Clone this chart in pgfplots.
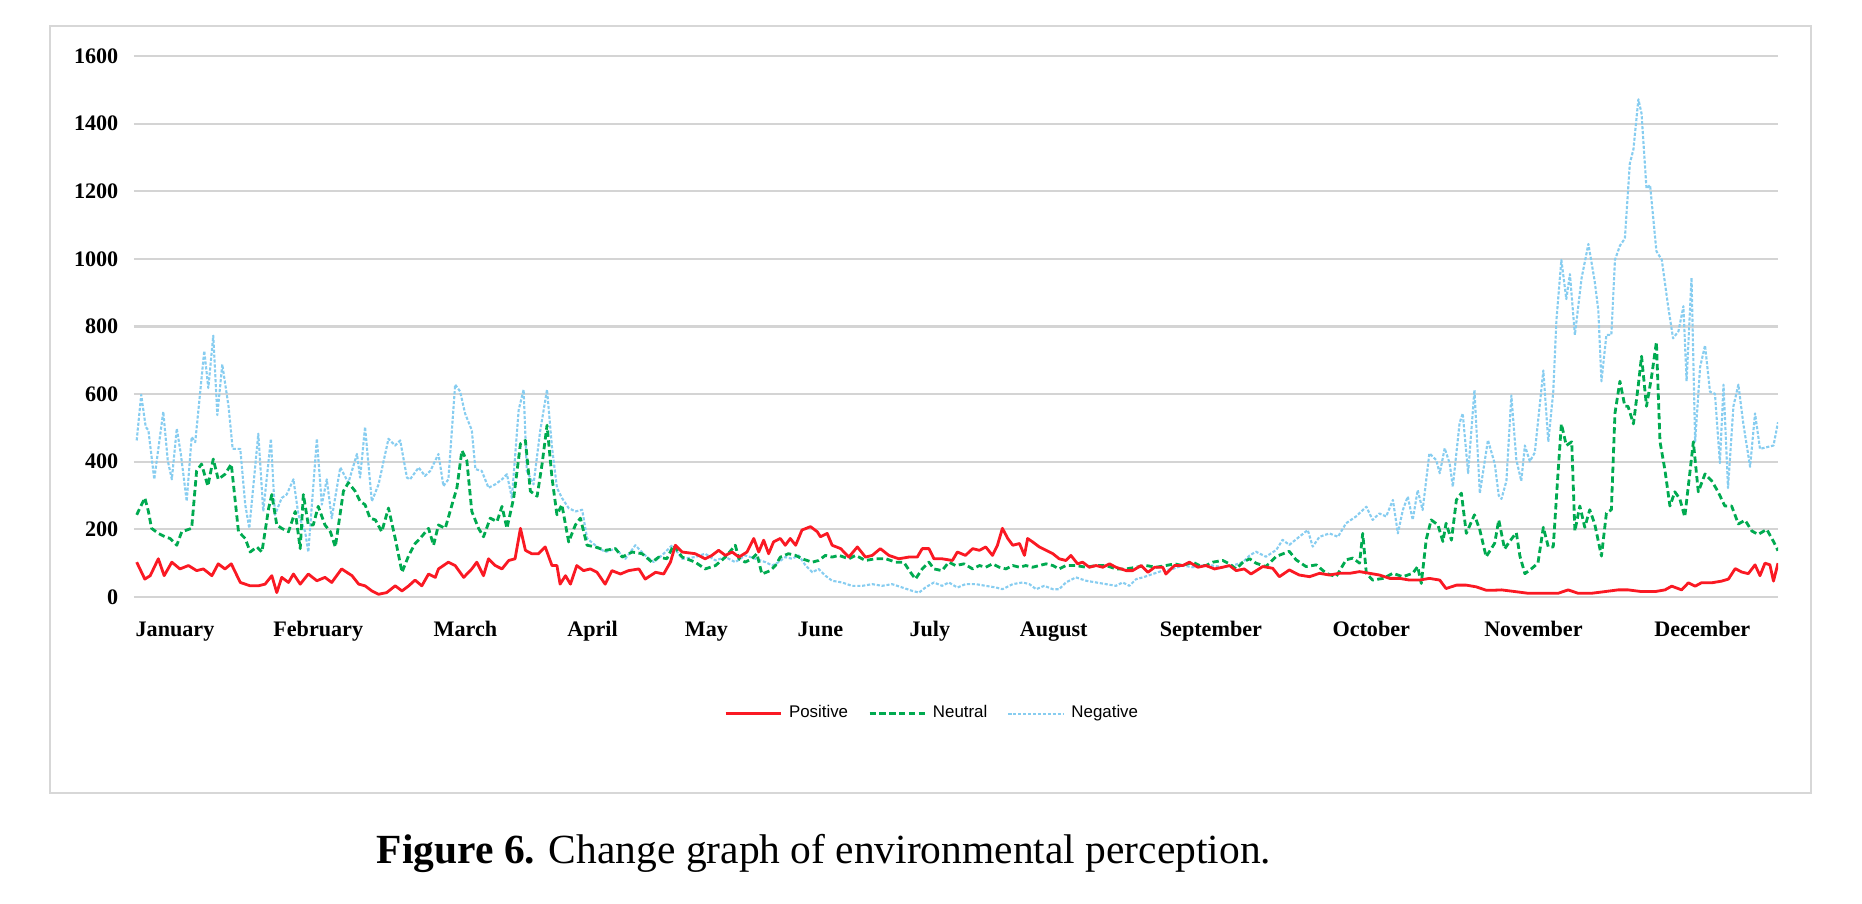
\documentclass[border=0pt]{standalone}
\usepackage{fontspec}
\setmainfont{Liberation Serif}
\newfontfamily\legendfont{Liberation Sans}
\usepackage{pgfplots}
\pgfplotsset{compat=1.18}

\definecolor{posred}{RGB}{250,25,35}
\definecolor{neugreen}{RGB}{0,170,80}
\definecolor{negblue}{RGB}{135,205,240}
\definecolor{gridgray}{RGB}{212,212,212}
\definecolor{framegray}{RGB}{215,215,215}

\begin{document}
\begin{tikzpicture}[x=1cm,y=1cm]
\useasboundingbox (0,0) rectangle (18.62,9.04);
\draw[framegray, line width=0.8pt] (0.50,1.11) rectangle (18.11,8.78);

\begin{axis}[
  at={(1.34cm,3.07cm)}, anchor=south west,
  scale only axis, width=16.44cm, height=5.41cm,
  xmin=0, xmax=365, ymin=0, ymax=1600,
  ytick={0,200,...,1600},
  xtick={9.1,40.9,73.6,101.8,127.1,152.4,176.7,204.2,239.1,274.7,310.7,348.2},
  xticklabels={January,February,March,April,May,June,July,August,September,October,November,December},
  axis line style={draw=none},
  major tick length=0pt,
  ymajorgrids=true,
  grid style={gridgray, line width=0.6pt},
  /pgf/number format/assume math mode=true,
  /pgf/number format/1000 sep={},
  yticklabel style={font=\bfseries\fontsize{6.3}{7}\selectfont, inner sep=0pt, anchor=east, xshift=-0.15cm},
  xticklabel style={font=\bfseries\fontsize{6.3}{7}\selectfont, inner sep=0pt, anchor=base, yshift=-0.40cm},
  legend style={at={(0.487,-0.216)}, anchor=center, draw=none, fill=none,
    legend columns=3, font=\legendfont\fontsize{4.8}{6}\selectfont,
    /tikz/every even column/.append style={column sep=0.13cm}},
  legend image code/.code={\draw[#1] (0cm,0cm) -- (0.55cm,0cm);},
  line join=round,
]

% Negative
\addplot[negblue, line width=0.6pt, dash pattern=on 0.9pt off 0.5pt, forget plot] coordinates {
(0.6,463)(1.6,598)(2.6,503)(3.2,493)(4.5,348)(6.5,548)(7.5,403)(8.4,348)(9.5,498)(10.4,423)(11.7,283)(12.8,473)(13.6,458)(15.6,728)(16.5,618)(17.6,773)(18.5,538)(19.6,688)(21.0,563)(21.9,438)(23.6,438)(24.7,273)(25.6,203)(27.6,483)(28.7,253)(30.4,468)(31.3,243)(32.8,293)(33.9,303)(35.4,348)(36.5,243)(38.0,193)(38.7,133)(40.6,468)(41.7,273)(42.8,348)(43.9,233)(45.8,383)(47.6,338)(49.5,423)(50.2,353)(51.3,503)(52.8,283)(54.3,333)(56.5,468)(58.0,448)(59.1,463)(60.6,353)
(61.3,348)(63.2,383)(64.6,358)(65.8,373)(67.6,423)(68.7,328)(69.8,348)(71.3,628)(72.4,608)(73.5,543)(75.0,493)(75.8,378)(77.2,373)(78.7,323)(80.2,333)(81.7,348)(82.8,363)(83.9,293)(85.4,553)(86.5,613)(87.2,373)(88.7,333)(90.2,493)(91.7,613)(92.8,443)(93.9,323)(95.0,293)(96.5,263)(98.0,253)(99.5,258)(100.6,173)(102.4,153)(104.6,133)(106.9,143)(109.1,113)(111.3,153)(113.5,123)(115.4,103)(117.2,123)(119.5,153)(121.7,113)
(124.6,118)(126.8,128)(129.1,108)(131.3,118)(133.5,103)(135.7,123)(138.0,113)(140.2,103)(141.7,93)(143.1,103)(144.6,118)(146.1,113)(147.6,123)(149.1,93)(150.6,73)(152.0,83)(153.5,63)(155.0,48)(157.2,43)(159.4,33)(161.7,33)(163.9,38)(166.1,33)(168.3,38)(170.6,28)(172.8,18)(174.3,13)(175.7,28)(177.6,43)(179.4,33)(180.9,43)(182.8,28)(184.6,38)
(186.9,38)(189.1,33)(191.4,28)(192.8,23)(195.1,38)(197.3,43)(198.8,38)(200.3,23)(202.1,33)(204.0,23)(205.4,23)(206.9,43)(209.1,58)(211.4,48)(213.6,43)(215.8,38)(218.0,33)(219.5,43)(221.0,33)(222.5,53)(224.0,58)(226.2,68)(228.4,78)(230.6,83)(232.8,93)(235.1,88)(237.3,93)(239.5,93)(241.7,88)(244.0,93)(246.2,103)(247.7,123)
(249.1,134)(251.3,119)(253.6,139)(255.0,169)(256.5,154)(258.7,178)(260.6,198)(261.7,149)(263.2,178)(265.4,188)(267.3,178)(269.1,218)(271.3,238)(273.6,267)(275.0,228)(276.5,247)(278.0,238)(279.5,287)(280.6,188)(281.7,257)(282.8,297)(283.9,228)(285.0,316)(286.1,257)(287.6,425)(289.1,405)(289.9,366)(291.0,440)(292.1,395)(292.8,326)(294.3,514)(295.0,543)(296.2,366)(297.6,612)(298.8,307)(300.6,464)(302.1,395)(303.0,300)
(303.6,290)(304.7,343)(305.8,596)(306.9,406)(308.0,343)(308.8,448)(309.9,401)(311.0,427)(312.9,670)(314.0,459)(315.1,607)(315.8,818)(316.9,997)(318.0,881)(318.8,955)(319.9,775)(321.4,944)(322.9,1044)(324.3,934)(325.1,849)(325.8,638)(326.9,775)(328.0,775)(328.8,997)(329.9,1039)(331.0,1060)(332.1,1282)(332.9,1324)(334.0,1472)(334.7,1430)(335.8,1208)(336.6,1218)(338.0,1023)(339.2,997)(340.6,860)(341.7,765)(342.9,786)(344.0,860)(344.7,638)(345.8,944)(346.6,459)(347.7,680)(348.8,744)(349.9,607)(351.0,601)(352.1,396)(352.9,628)(353.9,322)(355.1,564)(356.2,628)(357.3,512)(358.8,385)(359.9,543)(361.0,438)(362.5,443)(364.0,448)(365.0,517)
};

% Neutral
\addplot[neugreen, line width=0.8pt, dash pattern=on 1.8pt off 1pt, forget plot] coordinates {
(0.6,243)(2.4,293)(3.2,253)(3.9,203)(5.4,188)(6.9,178)(8.0,173)(9.5,153)(10.6,193)(12.8,203)(13.9,373)(15.0,393)(16.4,328)(17.6,408)(18.7,348)(20.2,363)(21.6,393)(23.2,193)(24.7,173)(25.8,133)(27.3,148)(28.4,133)(29.9,263)(30.6,303)(31.7,213)(32.8,203)(34.3,193)(35.8,253)(36.9,143)(37.6,303)(38.7,213)(39.8,213)(40.9,268)(42.4,213)(43.6,193)(44.7,148)(46.5,313)(47.6,338)(49.1,313)(50.2,283)(51.3,273)(52.4,233)(53.6,228)(55.0,193)(56.5,263)(58.0,173)(59.5,73)(61.0,123)
(62.4,158)(63.5,173)(65.4,203)(66.5,153)(67.6,213)(69.1,203)(70.6,273)(71.7,323)(72.8,433)(73.9,403)(75.0,253)(76.5,203)(77.6,178)(79.1,233)(80.6,223)(81.7,268)(82.8,203)(84.3,293)(85.8,453)(86.9,463)(88.0,313)(89.5,298)(90.6,393)(91.7,508)(92.8,353)(93.9,243)(95.0,273)(96.5,163)(98.0,213)(99.1,233)(100.6,153)(102.4,148)(104.6,138)(106.9,143)(108.4,118)(110.6,133)(112.8,128)(115.0,103)(116.5,118)(118.3,113)(119.8,153)(121.7,118)
(124.6,103)(126.8,83)(129.1,93)(131.3,118)(133.5,153)(134.3,113)(135.7,103)(137.2,113)(138.3,128)(139.4,68)(141.3,78)(142.4,93)(143.5,118)(145.3,128)(146.9,123)(148.3,113)(150.6,103)(152.0,108)(153.5,123)(155.0,118)(156.5,123)(158.7,113)(160.2,123)(162.4,108)(164.6,113)(166.9,113)(169.1,103)(170.9,103)(172.4,73)(173.5,53)(175.0,83)(176.5,103)(177.6,83)(179.4,78)(180.9,103)(182.4,93)(184.3,98)
(186.2,83)(187.7,93)(189.1,88)(190.6,98)(192.1,88)(193.6,83)(195.1,93)(196.6,88)(198.0,93)(199.5,88)(201.0,93)(202.5,98)(204.0,93)(205.4,83)(206.9,93)(209.1,93)(211.4,88)(213.6,93)(215.8,93)(218.0,83)(220.3,83)(222.5,88)(224.7,93)(226.9,88)(229.1,93)(231.0,98)(232.8,93)(235.1,103)(236.6,93)(238.0,93)(239.5,103)(241.7,108)(243.2,98)(244.7,83)(246.2,103)(247.7,113)
(249.1,100)(251.3,90)(253.6,120)(256.5,135)(258.0,110)(260.2,90)(262.5,95)(264.7,70)(266.9,60)(269.1,110)(270.6,115)(272.1,100)(272.8,188)(273.6,70)(275.0,50)(277.3,55)(279.5,70)(281.7,60)(283.9,70)(285.0,90)(285.8,40)(286.9,170)(288.0,228)(289.5,213)(290.6,164)(291.3,218)(292.5,168)(293.6,287)(294.7,307)(295.8,188)(297.6,243)(298.8,198)(300.2,119)(302.1,159)(303.0,228)
(304.3,142)(305.4,164)(306.9,190)(307.7,121)(308.8,69)(310.3,84)(311.7,100)(312.9,206)(314.0,148)(315.1,148)(316.2,375)(316.9,512)(318.0,448)(319.2,459)(319.9,195)(321.0,269)(322.1,206)(323.2,258)(324.3,216)(325.8,121)(326.9,248)(328.0,258)(328.8,543)(329.9,638)(331.0,564)(331.7,564)(332.9,512)(334.0,628)(334.7,712)(335.8,564)(336.9,649)(338.0,754)(338.8,459)(339.9,375)(341.0,269)(342.1,311)(343.2,290)(344.3,237)(345.4,364)(346.2,459)(347.3,311)(348.8,364)(350.3,343)(351.7,311)(353.2,269)(354.7,269)(356.2,216)(357.7,227)(359.2,195)(360.6,185)(362.5,200)(364.0,164)(365.0,137)
};

% Positive
\addplot[posred, line width=0.8pt, forget plot] coordinates {
(0.6,103)(2.4,53)(3.6,63)(5.4,113)(6.7,63)(8.4,103)(10.2,83)(12.1,93)(13.9,78)(15.4,83)(17.3,63)(18.7,98)(20.2,83)(21.6,98)(23.6,43)(25.8,33)(27.6,33)(29.1,38)(30.6,63)(31.7,13)(32.8,58)(34.3,43)(35.4,68)(36.9,38)(38.7,68)(40.6,48)(42.4,58)(43.9,43)(46.1,83)(48.4,63)(49.9,38)(51.3,33)(52.8,18)(54.3,8)(56.1,13)(58.0,33)(59.5,18)
(61.0,33)(62.4,50)(63.9,33)(65.4,68)(66.9,58)(67.6,83)(69.8,103)(71.3,93)(73.2,58)(75.0,83)(76.1,103)(77.6,63)(78.7,113)(80.2,93)(81.7,83)(83.2,108)(84.6,113)(85.8,203)(86.9,138)(88.3,128)(89.8,128)(91.3,148)(92.8,93)(93.9,93)(94.6,38)(95.8,63)(96.9,38)(98.3,93)(99.8,78)(101.3,83)(102.8,73)(104.6,38)(106.1,78)(108.0,68)(109.8,78)(112.1,83)(113.5,53)(115.8,73)(117.6,68)(119.1,103)(120.2,153)(121.7,133)
(124.6,128)(126.8,113)(128.3,123)(129.8,138)(131.3,123)(132.8,133)(134.3,118)(136.1,133)(137.6,173)(138.7,133)(139.8,168)(140.9,128)(142.0,163)(143.5,173)(144.6,153)(145.7,173)(146.9,153)(148.3,198)(150.2,208)(151.7,193)(152.4,178)(153.9,188)(155.0,153)(156.9,143)(158.7,118)(160.6,148)(162.4,118)(163.9,123)(165.7,143)(167.6,123)(169.8,113)(172.0,118)(173.9,118)(175.0,143)(176.5,143)(177.6,113)(179.4,113)(181.7,108)(182.8,133)(184.6,123)
(186.2,143)(187.7,138)(189.1,148)(190.6,123)(191.7,153)(192.8,203)(194.0,173)(195.1,153)(196.6,158)(197.7,123)(198.4,173)(199.5,163)(201.0,148)(202.5,138)(204.0,128)(205.4,113)(206.9,108)(208.0,123)(209.5,98)(210.6,103)(212.1,88)(213.6,93)(215.1,88)(216.6,98)(218.0,88)(220.3,78)(221.7,78)(223.6,93)(225.1,73)(226.6,88)(228.4,88)(229.1,68)(231.0,93)(232.8,93)(234.3,103)(236.2,88)(238.0,93)(239.9,83)(241.7,88)(243.2,93)(244.7,78)(246.5,83)(248.0,68)
(250.6,90)(252.8,85)(254.3,60)(256.5,80)(258.7,65)(261.0,60)(263.2,70)(265.4,65)(267.6,70)(269.9,70)(272.1,75)(274.3,70)(276.5,65)(278.8,55)(281.0,55)(283.2,50)(285.4,50)(287.6,55)(289.9,50)(291.3,25)(293.6,35)(295.8,35)(298.0,30)(300.2,20)(302.0,20)
(303.6,21)(306.6,16)(309.5,11)(312.5,11)(316.2,11)(318.4,21)(320.6,11)(323.6,11)(326.6,16)(329.5,21)(331.7,21)(334.7,16)(337.7,16)(339.9,21)(341.4,32)(343.6,21)(345.1,42)(346.6,32)(348.0,42)(350.3,42)(352.5,47)(354.0,53)(355.5,84)(356.9,74)(358.4,69)(359.9,95)(361.0,63)(362.1,100)(363.2,95)(364.0,47)(365.0,100)
};

\addlegendimage{posred, line width=0.8pt}
\addlegendentry{Positive}
\addlegendimage{neugreen, line width=0.8pt, dash pattern=on 1.8pt off 1pt}
\addlegendentry{Neutral}
\addlegendimage{negblue, line width=0.6pt, dash pattern=on 0.9pt off 0.5pt}
\addlegendentry{Negative}
\end{axis}

\node[font=\fontsize{11.8}{14}\selectfont, anchor=center, inner sep=0pt] at (8.24,0.51)
  {\textbf{Figure 6.} Change graph of environmental perception.};
\end{tikzpicture}
\end{document}
